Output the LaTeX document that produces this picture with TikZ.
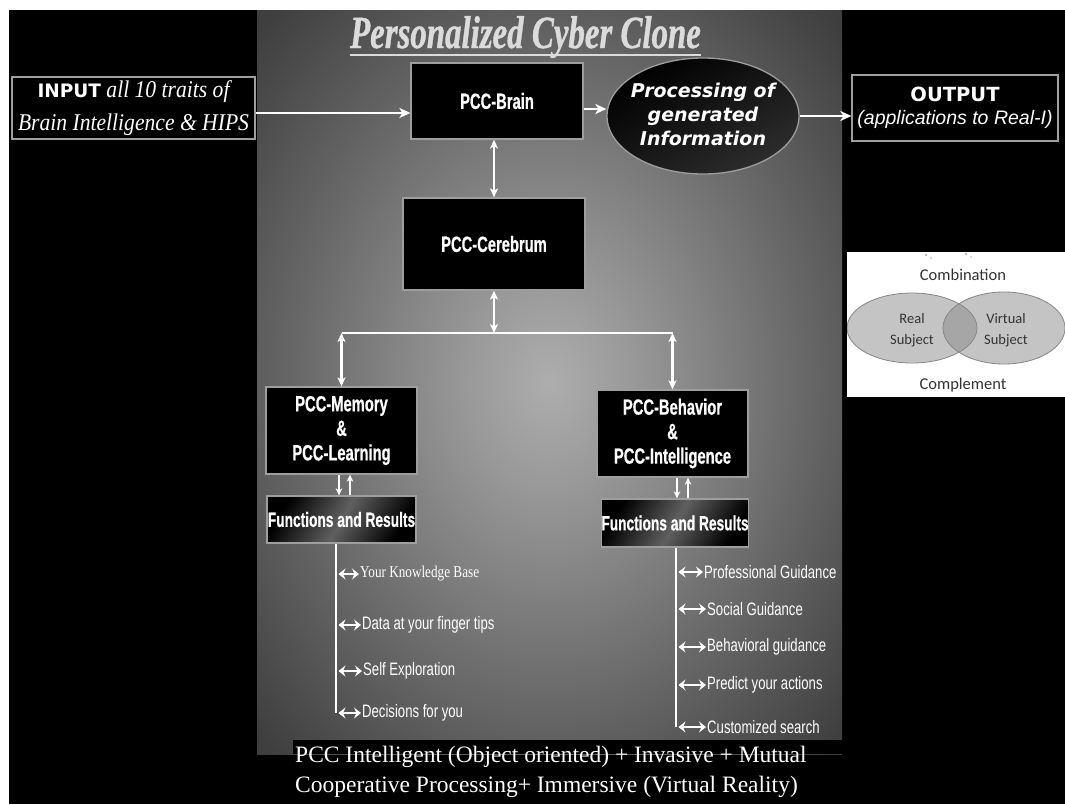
\documentclass[tikz,border=0pt]{standalone}
\usepackage{fontspec}
\usetikzlibrary{arrows.meta,shapes.geometric,calc}
\setmainfont{Liberation Serif}
\newfontfamily\narrowsans[FakeStretch=0.67, BoldFeatures={FakeBold=0.6}]{Liberation Sans}
\newfontfamily\listsans[FakeStretch=0.73]{Liberation Sans}
\newfontfamily\listserif[FakeStretch=0.80]{Liberation Serif}
\newfontfamily\titlefont[FakeStretch=0.715, BoldItalicFeatures={FakeBold=0.8}]{Liberation Serif}
\newfontfamily\inserif[FakeStretch=0.90]{Liberation Serif}
\newfontfamily\dejavu{DejaVu Sans}
\newfontfamily\libsans{Liberation Sans}
\newfontfamily\carlito{Carlito}
\definecolor{pg0}{gray}{0.68}
\definecolor{pg1}{gray}{0.60}
\definecolor{pg2}{gray}{0.43}
\definecolor{pg3}{gray}{0.25}
\definecolor{pg4}{gray}{0.11}
\definecolor{titlegray}{gray}{0.86}
\definecolor{boxedge}{gray}{0.62}
\pgfdeclareradialshading{panelglow}{\pgfpoint{0bp}{0bp}}{color(0bp)=(pg0); color(7bp)=(pg1); color(20bp)=(pg2); color(34bp)=(pg3); color(50bp)=(pg4)}
\begin{document}
\begin{tikzpicture}[x=1pt,y=-1pt,
  pbox/.style={draw=boxedge, line width=1.3pt, fill=black, text=white, align=center, inner sep=0pt},
  funcbox/.style={draw=boxedge, line width=1.3pt, text=white, align=center, inner sep=0pt,
     top color=black, bottom color=black, middle color=gray!75!black, shading angle=60},
  boxtitle/.style={font=\narrowsans\bfseries\fontsize{22}{24.5}\selectfont},
  functitle/.style={font=\narrowsans\bfseries\fontsize{20.5}{20.5}\selectfont},
  proctext/.style={text=white, align=center, inner sep=0pt, font=\dejavu\bfseries\itshape\fontsize{19}{24}\selectfont},
  litem/.style={text=white, inner sep=1pt, anchor=west, font=\listsans\fontsize{18}{18}\selectfont},
  arr/.style={draw=white, line width=2.5pt, -{Stealth[length=11pt,width=10pt,inset=3pt]}},
  darr/.style={draw=white, line width=2.2pt, {Stealth[length=9pt,width=8pt,inset=2.5pt]}-{Stealth[length=9pt,width=8pt,inset=2.5pt]}},
  sarr/.style={draw=white, line width=1.5pt, -{Stealth[length=7pt,width=6.5pt,inset=2pt]}},
  larr/.style={draw=white, line width=2.2pt, shorten <=2.5pt, {Stealth[length=7pt,width=11pt,inset=2.5pt]}-{Stealth[length=7pt,width=11pt,inset=2.5pt]}},
  wline/.style={draw=white, line width=2pt},
  vennfill/.style={fill=gray!46},
  venncore/.style={fill=gray!70},
  vennline/.style={draw=gray!95, line width=0.8pt},
  venntext/.style={text=black!80, align=center, inner sep=0pt, font=\carlito\fontsize{14.5}{21}\selectfont}
]
\useasboundingbox (0,0) rectangle (1065,804);
\fill[white] (0,0) rectangle (1065,804);
\fill[black] (9,10) rectangle (1065,804);
% central panel
\shade[shading=panelglow] (257,10) rectangle (842,754);
\fill[black] (293,740) rectangle (843,754);

% title
\node[anchor=base, inner sep=0pt, text=titlegray, font=\titlefont\bfseries\itshape\fontsize{46}{46}\selectfont] (title) at (525.5,48) {Personalized Cyber Clone};
\draw[titlegray, line width=2pt] ([yshift=-7pt]title.base west) -- ([yshift=-7pt]title.base east);

% top row
\node[pbox, minimum width=243pt, minimum height=62pt, font=\inserif\itshape\fontsize{24}{33}\selectfont] (input) at (133.5,108)
  {{\dejavu\upshape\bfseries\fontsize{18.5}{18.5}\selectfont INPUT} all 10 traits of\\Brain Intelligence \& HIPS};
\node[pbox, boxtitle, minimum width=172pt, minimum height=76pt] (brain) at (497,101) {PCC-Brain};
\node[ellipse, draw=boxedge, line width=1.3pt, top color=black, bottom color=gray!35!black, shading angle=30, minimum width=192pt, minimum height=116pt, inner sep=0pt] (proc) at (703,116) {};
\node[proctext] (proct) at (703,114) {Processing of\\generated\\Information};
\node[pbox, minimum width=206pt, minimum height=66pt, font=\libsans\itshape\fontsize{19.5}{23}\selectfont] (output) at (955,108)
  {{\dejavu\upshape\bfseries\fontsize{19.5}{19.5}\selectfont OUTPUT}\\(applications to Real-I)};

% middle
\node[pbox, boxtitle, minimum width=182pt, minimum height=92pt] (cerebrum) at (494,244) {PCC-Cerebrum};
\node[pbox, boxtitle, minimum width=151pt, minimum height=87pt] (memory) at (341.5,430.5) {PCC-Memory\\\&\\PCC-Learning};
\node[pbox, boxtitle, minimum width=151pt, minimum height=87pt] (behavior) at (672.5,433.5) {PCC-Behavior\\\&\\PCC-Intelligence};
\node[funcbox, functitle, minimum width=149pt, minimum height=47pt] (func1) at (341.5,519.5) {Functions and Results};
\node[funcbox, functitle, minimum width=146pt, minimum height=48pt] (func2) at (675,523) {Functions and Results};

% connectors top
\draw[arr] ([yshift=-5pt]input.east) -- ([yshift=-5pt]input.east -| brain.west);
\draw[arr] ([yshift=-8pt]brain.east) -- ([yshift=-8pt]brain.east -| proc.west);
\draw[arr] (proc.east) -- (proc.east -| output.west);
\draw[darr] (cerebrum.north |- brain.south) -- (cerebrum.north);

% bus
\coordinate (busy) at (0,333);
\coordinate (bl) at (memory.north |- busy);
\coordinate (br) at (behavior.north |- busy);
\draw[wline] (bl) -- (br);
\draw[darr] (cerebrum.south) -- (cerebrum.south |- busy);
\draw[darr] (bl) -- (memory.north);
\draw[darr] (br) -- (behavior.north);

% small arrows to functions
\draw[sarr] ([xshift=-2.5pt]memory.south) -- ([xshift=-2.5pt]memory.south |- func1.north);
\draw[sarr] ([xshift=8.5pt]memory.south |- func1.north) -- ([xshift=8.5pt]memory.south);
\draw[sarr] ([xshift=4.5pt]behavior.south) -- ([xshift=4.5pt]behavior.south |- func2.north);
\draw[sarr] ([xshift=15.5pt]behavior.south |- func2.north) -- ([xshift=15.5pt]behavior.south);

% left list
\coordinate (l1t) at ([xshift=-5.5pt]func1.south);
\node[litem, font=\listserif\fontsize{16.5}{16.5}\selectfont] (li1) at (359,574) {Your Knowledge Base};
\node[litem] (li2) at (361,625) {Data at your finger tips};
\node[litem] (li3) at (362,671) {Self Exploration};
\node[litem] (li4) at (361,713) {Decisions for you};
\draw[wline] (l1t) -- (l1t |- li4.west);
\foreach \n in {li1,li2,li3,li4} \draw[larr] (l1t |- \n.west) -- (\n.west);

% right list
\coordinate (l2t) at ([xshift=1pt]func2.south);
\node[litem] (ri1) at (703,572) {Professional Guidance};
\node[litem] (ri2) at (706,609) {Social Guidance};
\node[litem] (ri3) at (706,647) {Behavioral guidance};
\node[litem] (ri4) at (706,685) {Predict your actions};
\node[litem] (ri5) at (706,727) {Customized search};
\draw[wline] (l2t) -- (l2t |- ri5.west);
\foreach \n in {ri1,ri2,ri3,ri4,ri5} \draw[larr] (l2t |- \n.west) -- (\n.west);

% caption
\node[anchor=north west, align=left, inner sep=0pt, text=white, font=\fontsize{23.5}{30}\selectfont] (caption) at (295,746)
  {PCC Intelligent (Object oriented) + Invasive + Mutual\\Cooperative Processing+ Immersive (Virtual Reality)};

% Venn inset
\fill[white] (847,252) rectangle (1065,397);
\begin{scope}
  \clip (847,252) rectangle (1065,397);
  \fill[vennfill] (912,328) ellipse [x radius=65pt, y radius=35pt];
  \fill[vennfill] (1004,328) ellipse [x radius=61pt, y radius=36pt];
  \begin{scope}
    \clip (912,328) ellipse [x radius=65pt, y radius=35pt];
    \fill[venncore] (1004,328) ellipse [x radius=61pt, y radius=36pt];
  \end{scope}
  \draw[vennline] (912,328) ellipse [x radius=65pt, y radius=35pt];
  \draw[vennline] (1004,328) ellipse [x radius=61pt, y radius=36pt];
  \fill[gray!55] (926,255) circle (1.4pt) (931,258) circle (0.9pt) (966,254) circle (1.3pt) (971,257) circle (0.9pt);
\end{scope}
\node[venntext, font=\carlito\fontsize{16.5}{16.5}\selectfont] (comb) at (963,275) {Combination};
\node[venntext] (real) at (912,330) {Real\\Subject};
\node[venntext] (virt) at (1006,330) {Virtual\\Subject};
\node[venntext, font=\carlito\fontsize{16.5}{16.5}\selectfont] (compl) at (963,385) {Complement};
\end{tikzpicture}
\end{document}
